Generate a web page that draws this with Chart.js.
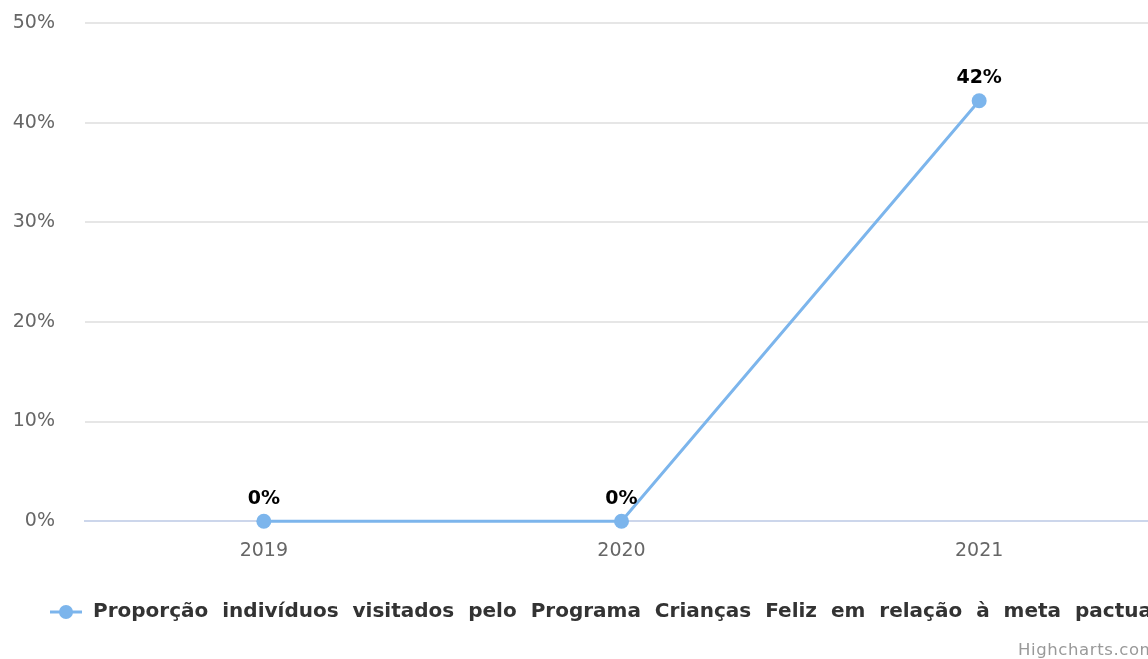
<!DOCTYPE html>
<html>
<head>
<meta charset="utf-8">
<script src="https://cdn.jsdelivr.net/npm/chart.js@4/dist/chart.umd.min.js"></script>
<style>
html,body{margin:0;padding:0;background:#fff;overflow:hidden;}
#wrap{width:1148px;height:659px;overflow:hidden;position:relative;}
canvas{display:block;}
</style>
</head>
<body>
<div id="wrap"><canvas id="c" width="1172" height="659"></canvas></div>
<script>
const categories = ['2019', '2020', '2021'];
const values = [0, 0, 42.2];
const valueLabels = ['0%', '0%', '42%'];
const yTicks = [0, 10, 20, 30, 40, 50];
const seriesName = 'Proporção indivíduos visitados pelo Programa Crianças Feliz em relação à meta pactuada';
const creditText = 'Highcharts.com';

const FONT = '"DejaVu Sans", Verdana, sans-serif';
const COLOR = '#7cb5ec';

const dataLabelPlugin = {
  id: 'dataLabels',
  afterDatasetsDraw(chart) {
    const ctx = chart.ctx;
    const meta = chart.getDatasetMeta(0);
    ctx.save();
    ctx.font = 'bold 19px ' + FONT;
    ctx.fillStyle = '#000';
    ctx.textAlign = 'center';
    ctx.textBaseline = 'bottom';
    meta.data.forEach((pt, i) => {
      ctx.fillText(valueLabels[i], pt.x, pt.y - 13);
    });
    ctx.restore();
  }
};

const legendPlugin = {
  id: 'customLegend',
  afterDraw(chart) {
    const ctx = chart.ctx;
    const y = 612;
    ctx.save();
    ctx.strokeStyle = COLOR;
    ctx.lineWidth = 3;
    ctx.beginPath();
    ctx.moveTo(50, y);
    ctx.lineTo(82, y);
    ctx.stroke();
    ctx.fillStyle = COLOR;
    ctx.beginPath();
    ctx.arc(66, y, 7, 0, Math.PI * 2);
    ctx.fill();
    ctx.font = 'bold 20px ' + FONT;
    ctx.fillStyle = '#333';
    ctx.textAlign = 'left';
    ctx.textBaseline = 'middle';
    try { ctx.wordSpacing = '7px'; } catch (e) {}
    ctx.fillText(seriesName, 93, y);
    try { ctx.wordSpacing = '0px'; ctx.letterSpacing = '0.6px'; } catch (e) {}
    ctx.font = '16.5px ' + FONT;
    ctx.fillStyle = '#999';
    ctx.textBaseline = 'alphabetic';
    ctx.fillText(creditText, 1018, 655);
    ctx.restore();
  }
};

new Chart(document.getElementById('c'), {
  type: 'line',
  data: {
    labels: categories,
    datasets: [{
      label: seriesName,
      data: values,
      borderColor: COLOR,
      backgroundColor: COLOR,
      borderWidth: 3,
      pointRadius: 7.5,
      pointHoverRadius: 7.5,
      pointBackgroundColor: COLOR,
      pointBorderWidth: 0,
      tension: 0,
      clip: false
    }]
  },
  options: {
    responsive: false,
    devicePixelRatio: 1,
    animation: false,
    events: [],
    layout: { padding: { left: 13, right: 14, top: 0, bottom: 79 } },
    plugins: { legend: { display: false }, tooltip: { enabled: false } },
    scales: {
      x: {
        offset: true,
        grid: { display: false, drawTicks: false },
        border: { color: '#ccd6eb', width: 2 },
        ticks: { color: '#666', font: { family: FONT, size: 19 }, padding: 18 }
      },
      y: {
        min: 0,
        max: 50,
        afterBuildTicks(axis) { axis.ticks = yTicks.map(v => ({ value: v })); },
        afterFit(axis) { axis.width = 72; axis.paddingTop = 23; axis.paddingBottom = 12; },
        grid: { color: '#e6e6e6', lineWidth: 2, drawTicks: false },
        border: { display: false },
        ticks: {
          color: '#666',
          font: { family: FONT, size: 19 },
          padding: 30,
          callback: v => v + '%'
        }
      }
    }
  },
  plugins: [dataLabelPlugin, legendPlugin]
});
</script>
</body>
</html>
